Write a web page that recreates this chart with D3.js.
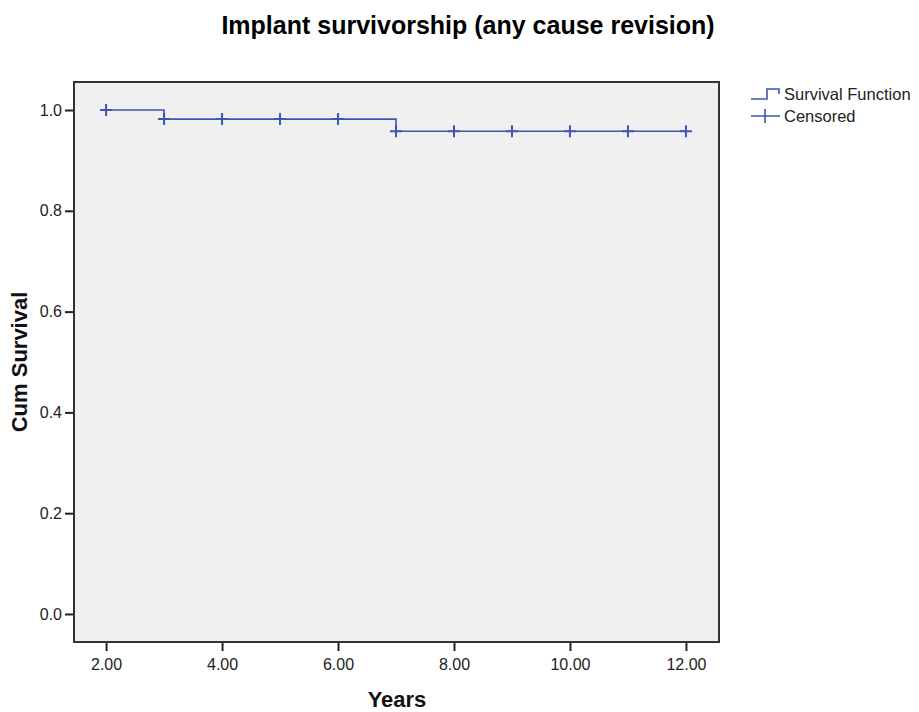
<!DOCTYPE html>
<html lang="en">
<head>
<meta charset="UTF-8">
<title>Implant survivorship (any cause revision)</title>
<script src="https://d3js.org/d3.v7.min.js"></script>
<style>
    body { margin: 0; padding: 0; background: #fff; font-family: Arial, "Liberation Sans", sans-serif; }
    .tick text { font-size: 16px; fill: #222; }
    .title { font-size: 25px; font-weight: bold; fill: #000; }
    .axis-title { font-size: 22px; font-weight: bold; fill: #111; }
    .legend text { font-size: 16.5px; fill: #222; }
</style>
</head>
<body>
<div id="chart"></div>
<script>
    // Kaplan-Meier step data
    const stepTimes = [2, 3, 7, 12];
    const stepSurvival = [1.0, 0.982, 0.958, 0.958];
    // censored observations
    const censorTimes = [2, 3, 4, 5, 6, 7, 8, 9, 10, 11, 12];
    const xTicks = [2, 4, 6, 8, 10, 12];
    const yTicks = [0, 0.2, 0.4, 0.6, 0.8, 1.0];

    const W = 919, H = 712;
    const margin = { left: 74, top: 82, right: 200, bottom: 70 };
    const plotW = 719 - margin.left, plotH = 642 - margin.top;
    const lineColor = "#3d55b5";

    const svg = d3.select("#chart").append("svg").attr("width", W).attr("height", H);

    const x = d3.scaleLinear().domain([1.447, 12.57]).range([0, plotW]);
    const y = d3.scaleLinear().domain([-0.0556, 1.0556]).range([plotH, 0]);

    svg.append("text").attr("class", "title")
       .attr("x", 468).attr("y", 34).attr("text-anchor", "middle")
       .text("Implant survivorship (any cause revision)");

    const g = svg.append("g").attr("transform", `translate(${margin.left},${margin.top})`);

    g.append("rect").attr("width", plotW).attr("height", plotH).attr("fill", "#f0f0f0");

    // survival step line
    const survAt = t => {
        let s = stepSurvival[0];
        stepTimes.forEach((st, i) => { if (t >= st) s = stepSurvival[i]; });
        return s;
    };
    const pts = stepTimes.map((t, i) => [t, stepSurvival[i]]);
    g.append("path")
     .attr("d", d3.line().x(d => x(d[0])).y(d => y(d[1])).curve(d3.curveStepAfter)(pts))
     .attr("fill", "none").attr("stroke", lineColor).attr("stroke-width", 1.6);

    // censored marks
    g.selectAll(".cens").data(censorTimes).enter().append("path")
     .attr("class", "cens")
     .attr("transform", d => `translate(${x(d)},${y(survAt(d))})`)
     .attr("d", "M-6,0H6M0,-6V6")
     .attr("stroke", lineColor).attr("stroke-width", 2).attr("fill", "none");

    // axes
    const xAxis = g.append("g").attr("transform", `translate(0,${plotH})`)
        .call(d3.axisBottom(x).tickValues(xTicks).tickFormat(d3.format(".2f")).tickSize(9).tickPadding(8));
    const yAxis = g.append("g")
        .call(d3.axisLeft(y).tickValues(yTicks).tickFormat(d3.format(".1f")).tickSize(9).tickPadding(3));
    [xAxis, yAxis].forEach(a => {
        a.select(".domain").remove();
        a.selectAll(".tick line").attr("stroke", "#222").attr("stroke-width", 2);
    });

    // frame
    g.append("rect").attr("width", plotW).attr("height", plotH)
     .attr("fill", "none").attr("stroke", "#333").attr("stroke-width", 2);

    svg.append("text").attr("class", "axis-title")
       .attr("x", 397).attr("y", 707).attr("text-anchor", "middle").text("Years");
    svg.append("text").attr("class", "axis-title")
       .attr("transform", "translate(27,362) rotate(-90)").attr("text-anchor", "middle").text("Cum Survival");

    // legend
    const legend = svg.append("g").attr("class", "legend");
    legend.append("path").attr("d", "M751,99H767V89H779V94")
          .attr("fill", "none").attr("stroke", lineColor).attr("stroke-width", 1.6);
    legend.append("text").attr("x", 784).attr("y", 100).text("Survival Function");
    legend.append("path").attr("d", "M751,116H780M765,109V123")
          .attr("fill", "none").attr("stroke", lineColor).attr("stroke-width", 1.6);
    legend.append("text").attr("x", 784).attr("y", 122).text("Censored");
</script>
</body>
</html>
